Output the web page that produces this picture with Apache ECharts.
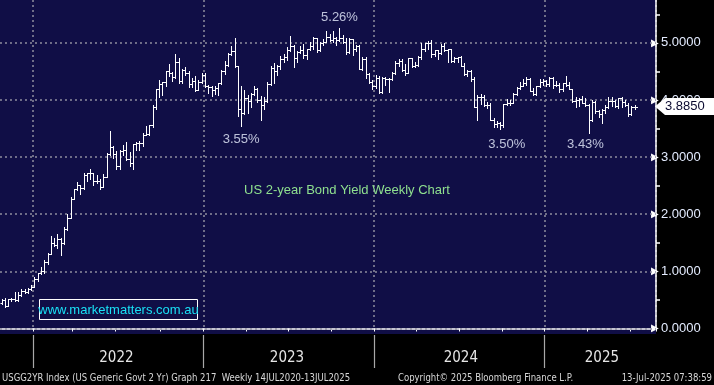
<!DOCTYPE html>
<html><head><meta charset="utf-8">
<script src="https://cdn.jsdelivr.net/npm/echarts@6/dist/echarts.min.js"></script>
<style>html,body{margin:0;padding:0;background:#000;}#c{width:714px;height:385px;}</style>
</head><body><div id="c"></div>
<script>
// Weekly OHLC rows: [open, high, low, close]
const y2021 = [
[0.45,0.52,0.43,0.50],[0.50,0.54,0.38,0.40],[0.40,0.52,0.39,0.51],[0.51,0.54,0.48,0.51],[0.51,0.64,0.48,0.50],
[0.50,0.64,0.49,0.59],[0.59,0.70,0.57,0.66],[0.66,0.69,0.62,0.64],[0.64,0.71,0.62,0.69],[0.69,0.77,0.67,0.73]];
const y2022 = [
[0.73,0.90,0.72,0.87],[0.87,0.98,0.84,0.97],[0.97,1.07,0.96,1.01],[1.01,1.20,0.98,1.17],[1.17,1.32,1.13,1.31],
[1.31,1.62,1.30,1.50],[1.50,1.58,1.44,1.47],[1.47,1.65,1.41,1.57],[1.57,1.58,1.28,1.50],[1.50,1.77,1.48,1.75],
[1.75,2.00,1.72,1.94],[1.94,2.30,1.93,2.27],[2.27,2.45,2.26,2.44],[2.44,2.56,2.42,2.51],[2.51,2.51,2.36,2.46],
[2.46,2.72,2.45,2.68],[2.68,2.73,2.58,2.72],[2.72,2.79,2.61,2.72],[2.72,2.73,2.52,2.59],[2.59,2.69,2.55,2.58],
[2.58,2.61,2.45,2.47],[2.47,2.70,2.47,2.66],[2.66,3.07,2.66,3.06],[3.06,3.45,3.03,3.17],[3.17,3.19,2.99,3.06],
[3.06,3.10,2.79,2.84],[2.84,3.12,2.80,3.11],[3.11,3.22,3.04,3.13],[3.13,3.27,2.95,2.97],[2.97,3.09,2.85,2.89],
[2.89,3.23,2.80,3.23],[3.23,3.27,3.12,3.25],[3.25,3.29,3.13,3.24],[3.24,3.43,3.20,3.39],[3.39,3.55,3.38,3.40],
[3.40,3.56,3.39,3.56],[3.56,3.92,3.53,3.87],[3.87,4.20,3.85,4.20],[4.20,4.35,4.05,4.28],[4.28,4.32,4.08,4.31],
[4.31,4.50,4.24,4.50],[4.50,4.63,4.42,4.48],[4.48,4.49,4.33,4.41],[4.41,4.80,4.39,4.66],[4.66,4.73,4.29,4.33],
[4.33,4.54,4.30,4.53],[4.53,4.57,4.44,4.47],[4.47,4.50,4.23,4.28],[4.28,4.38,4.23,4.34],[4.34,4.42,4.16,4.18],
[4.18,4.35,4.17,4.32],[4.32,4.48,4.30,4.43]];
const y2023 = [
[4.43,4.48,4.23,4.25],[4.25,4.27,4.12,4.23],[4.23,4.24,4.07,4.18],[4.18,4.24,4.10,4.21],[4.21,4.30,4.09,4.29],
[4.29,4.52,4.28,4.51],[4.51,4.68,4.46,4.62],[4.62,4.82,4.60,4.81],[4.81,4.94,4.79,4.86],[4.86,5.08,4.58,4.60],
[4.60,4.60,3.72,3.84],[3.84,4.25,3.55,3.77],[3.77,4.17,3.76,4.03],[4.03,4.08,3.77,3.99],[3.99,4.12,3.87,4.10],
[4.10,4.25,4.08,4.19],[4.19,4.21,3.97,4.00],[4.00,4.07,3.65,3.92],[3.92,4.06,3.85,3.98],[3.98,4.31,3.96,4.28],
[4.28,4.59,4.26,4.56],[4.56,4.64,4.29,4.50],[4.50,4.61,4.43,4.60],[4.60,4.77,4.54,4.72],[4.72,4.81,4.66,4.75],
[4.75,4.93,4.70,4.87],[4.87,5.12,4.85,4.94],[4.94,4.97,4.58,4.74],[4.74,4.86,4.66,4.84],[4.84,4.94,4.82,4.88],
[4.88,4.98,4.73,4.78],[4.78,4.90,4.71,4.89],[4.89,5.02,4.88,4.94],[4.94,5.11,4.90,5.08],[5.08,5.09,4.84,4.87],
[4.87,5.02,4.86,4.99],[4.99,5.07,4.96,5.02],[5.02,5.20,5.01,5.11],[5.11,5.15,5.03,5.05],[5.05,5.20,5.02,5.08],
[5.08,5.11,4.97,5.05],[5.05,5.26,5.04,5.08],[5.08,5.14,4.99,5.01],[5.01,5.08,4.80,4.84],[4.84,5.08,4.83,5.06],
[5.06,5.07,4.79,4.89],[4.89,4.96,4.85,4.95],[4.95,4.96,4.54,4.54],[4.54,4.75,4.53,4.72],[4.72,4.75,4.38,4.45],
[4.45,4.47,4.29,4.31],[4.31,4.35,4.20,4.25]];
const y2024 = [
[4.25,4.44,4.21,4.39],[4.39,4.42,4.12,4.14],[4.14,4.40,4.13,4.39],[4.39,4.40,4.27,4.36],[4.36,4.39,4.14,4.36],
[4.36,4.49,4.35,4.48],[4.48,4.69,4.45,4.64],[4.64,4.72,4.60,4.69],[4.69,4.72,4.50,4.53],[4.53,4.63,4.44,4.48],
[4.48,4.74,4.47,4.73],[4.73,4.74,4.57,4.59],[4.59,4.66,4.57,4.62],[4.62,4.77,4.60,4.75],[4.75,4.99,4.71,4.90],
[4.90,5.00,4.86,4.99],[4.99,5.04,4.90,5.00],[5.00,5.05,4.76,4.81],[4.81,4.88,4.77,4.87],[4.87,4.88,4.72,4.83],
[4.83,4.98,4.81,4.95],[4.95,4.99,4.85,4.87],[4.87,4.90,4.67,4.89],[4.89,4.90,4.66,4.68],[4.68,4.75,4.66,4.73],
[4.73,4.76,4.67,4.75],[4.75,4.77,4.59,4.60],[4.60,4.64,4.44,4.45],[4.45,4.52,4.42,4.50],[4.50,4.53,4.34,4.37],
[4.37,4.41,3.87,3.88],[3.88,4.08,3.65,4.05],[4.05,4.10,3.93,4.05],[4.05,4.08,3.89,3.91],[3.91,3.97,3.86,3.92],
[3.92,3.94,3.65,3.65],[3.65,3.68,3.53,3.58],[3.58,3.63,3.53,3.59],[3.59,3.61,3.50,3.56],[3.56,3.93,3.53,3.93],
[3.93,4.02,3.92,3.95],[3.95,4.00,3.92,3.95],[3.95,4.13,3.94,4.10],[4.10,4.22,4.08,4.21],[4.21,4.31,4.20,4.25],
[4.25,4.37,4.24,4.30],[4.30,4.41,4.27,4.37],[4.37,4.38,4.15,4.15],[4.15,4.21,4.09,4.10],[4.10,4.25,4.08,4.24],
[4.24,4.36,4.22,4.31],[4.31,4.37,4.27,4.33]];
const y2025 = [
[4.33,4.35,4.24,4.28],[4.28,4.40,4.25,4.38],[4.38,4.41,4.21,4.27],[4.27,4.33,4.24,4.27],[4.27,4.29,4.14,4.20],
[4.20,4.30,4.16,4.29],[4.29,4.42,4.25,4.26],[4.26,4.32,4.19,4.19],[4.19,4.20,3.97,3.99],[3.99,4.06,3.88,4.00],
[4.00,4.03,3.89,4.02],[4.02,4.07,3.95,3.95],[3.95,4.04,3.90,3.91],[3.91,3.93,3.43,3.65],[3.65,4.00,3.64,3.96],
[3.96,3.98,3.78,3.80],[3.80,3.83,3.70,3.76],[3.76,3.84,3.59,3.83],[3.83,3.92,3.78,3.88],[3.88,4.06,3.86,3.98],
[3.98,4.05,3.90,3.99],[3.99,4.00,3.87,3.90],[3.90,4.04,3.86,4.04],[4.04,4.05,3.87,3.96],[3.96,4.00,3.90,3.91],
[3.91,3.94,3.72,3.75],[3.75,3.90,3.74,3.88],[3.88,3.91,3.84,3.885]];

const firstWeek = '2021-10-29';
const weekCount = 200;
const yTicks = [0, 1, 2, 3, 4, 5];
const yearLabelWeeks = [35, 87, 140, 183];
const annIdx = [103, 73, 154, 178];
const annVal = [5.45, 3.31, 3.22, 3.22];
const annText = ['5.26%', '3.55%', '3.50%', '3.43%'];
const titleText = 'US 2-year Bond Yield Weekly Chart';
const siteText = 'www.marketmatters.com.au';
const footLeft = 'USGG2YR Index (US Generic Govt 2 Yr) Graph 217  Weekly 14JUL2020-13JUL2025';
const footMid = 'Copyright\u00a9 2025 Bloomberg Finance L.P.';
const footRight = '13-Jul-2025 07:38:59';

const rows = [].concat(y2021, y2022, y2023, y2024, y2025);
const ohlc = rows.map((r, i) => [i, r[0], r[1], r[2], r[3]]);
const cats = [];
const t0 = Date.parse(firstWeek + 'T00:00:00Z');
for (let i = 0; i <= weekCount; i++) cats.push(new Date(t0 + i * 7 * 864e5).toISOString().slice(0, 10));
const bandCats = cats.slice(0, weekCount);   // week bands
const edgeCats = cats;                        // week boundaries (one more)
const mon = v => +v.slice(5, 7), day = v => +v.slice(8, 10);
const yearFn = (i, v) => mon(v) === 1 && day(v) <= 7;
const quarterFn = (i, v) => [1, 4, 7, 10].includes(mon(v)) && day(v) <= 7;
const labelFn = (i) => yearLabelWeeks.includes(i);

const chart = echarts.init(document.getElementById('c'), null, {renderer: 'canvas'});
const dotted = {type: [2, 3], color: '#8e8e9e', width: 1.5};
const condensed = "'DejaVu Sans Condensed','DejaVu Sans',sans-serif";
const arial = "'Liberation Sans',Arial,sans-serif";
const yMax = 5.75;

function renderItem(params, api) {
  const i = api.value(0);
  const o = api.coord([i, api.value(1)]);
  const h = api.coord([i, api.value(2)]);
  const l = api.coord([i, api.value(3)]);
  const c = api.coord([i, api.value(4)]);
  const x = Math.round(o[0]) + 0.5;
  const st = {stroke: '#ffffff', lineWidth: 1};
  const oy = Math.round(o[1]) + 0.5, cy = Math.round(c[1]) + 0.5;
  return {type: 'group', children: [
    {type: 'line', shape: {x1: x, y1: Math.round(h[1]), x2: x, y2: Math.round(l[1]) + 1}, style: st},
    {type: 'line', shape: {x1: x - 2, y1: oy, x2: x, y2: oy}, style: st},
    {type: 'line', shape: {x1: x, y1: cy, x2: x + 2.5, y2: cy}, style: st}
  ]};
}

chart.setOption({
  backgroundColor: '#000000',
  animation: false,
  grid: [
    {left: 0, right: 58, top: 328.5 - 57.2 * yMax, bottom: 56.5},
    {left: 0, right: 58, top: 335, height: 33}
  ],
  xAxis: [{
    type: 'category', data: bandCats, boundaryGap: true, position: 'bottom', offset: 5, gridIndex: 0,
    axisLine: {lineStyle: {color: '#ffffff', width: 1.5}},
    axisTick: {show: true, interval: quarterFn, length: 3, lineStyle: {color: '#ffffff'}},
    axisLabel: {show: true, interval: labelFn, formatter: v => v.slice(0, 4), color: '#e6e6e6',
      fontFamily: condensed, fontSize: 15, margin: 17},
    splitLine: {show: true, interval: yearFn, lineStyle: dotted}
  }, {
    type: 'category', data: edgeCats, boundaryGap: false, gridIndex: 1,
    axisLine: {show: false}, axisTick: {show: false}, axisLabel: {show: false},
    splitLine: {show: true, interval: yearFn, lineStyle: {color: '#a8a8a8', width: 1.2, type: 'solid'}}
  }],
  yAxis: [{
    type: 'value', position: 'right', min: 0, max: yMax, interval: 1, gridIndex: 0,
    axisLine: {show: true, lineStyle: {color: '#ffffff', width: 1.5}},
    axisTick: {show: false},
    minorTick: {show: true, splitNumber: 2, length: 4, lineStyle: {color: '#ffffff', width: 1.5}},
    splitLine: {show: false},
    axisLabel: {
      margin: -5, showMaxLabel: false,
      formatter: v => '{a|\u25B6}{v|' + v.toFixed(4) + '}',
      rich: {
        a: {color: '#ffffff', fontSize: 10},
        v: {color: '#e4ecff', fontSize: 13, fontFamily: arial, padding: [0, 0, 0, 2]}
      }
    }
  }, {
    type: 'value', gridIndex: 1, show: false, splitLine: {show: false}
  }],
  series: [{
    type: 'custom', renderItem: renderItem, data: ohlc, xAxisIndex: 0, yAxisIndex: 0,
    encode: {x: 0, y: [1, 2, 3, 4]}, z: 5,
    markLine: {silent: true, symbol: 'none', label: {show: false}, lineStyle: dotted, z: 1,
      animation: false, data: yTicks.map(v => ({yAxis: v}))}
  }, {
    type: 'scatter', symbolSize: 0, z: 6, xAxisIndex: 0, yAxisIndex: 0,
    data: annIdx.map((x, i) => ({value: [x, annVal[i]], label: {formatter: annText[i]}})),
    label: {show: true, position: 'inside', color: '#e8efff', fontSize: 13, fontFamily: arial}
  }],
  graphic: [
    {id: 'bg', type: 'rect', shape: {x: 0, y: 0, width: 656, height: 334}, style: {fill: '#100e46'}, z: -10, silent: true},
    {id: 'title', type: 'text', x: 347, y: 190, style: {text: titleText, fill: '#8fe08f', fontSize: 13,
      fontFamily: arial, align: 'center', verticalAlign: 'middle'}, z: 10},
    {id: 'siteBox', type: 'rect', shape: {x: 39.5, y: 299.5, width: 158, height: 20}, style: {fill: '#100e46', stroke: '#ffffff', lineWidth: 1}, z: 10},
    {id: 'site', type: 'text', x: 118.5, y: 310, style: {text: siteText, fill: '#19e0f5', fontSize: 13,
      fontFamily: arial, align: 'center', verticalAlign: 'middle'}, z: 11},
    {id: 'f1', type: 'text', x: 2, y: 378, scaleX: 0.86, style: {text: footLeft, fill: '#d8d8d8', fontSize: 11, fontFamily: condensed, verticalAlign: 'middle'}},
    {id: 'f2', type: 'text', x: 398, y: 378, scaleX: 0.86, style: {text: footMid, fill: '#d8d8d8', fontSize: 11, fontFamily: condensed, verticalAlign: 'middle'}},
    {id: 'f3', type: 'text', x: 712, y: 378, scaleX: 0.86, style: {text: footRight, fill: '#d8d8d8', fontSize: 11, fontFamily: condensed, align: 'right', verticalAlign: 'middle'}}
  ]
});

// current-price tag placed through the axis scale
const last = rows[rows.length - 1][3];
const ty = chart.convertToPixel({yAxisIndex: 0}, last);
chart.setOption({graphic: [
  {id: 'tag', type: 'polygon', shape: {points: [[655, ty], [665, ty - 8.5], [716, ty - 8.5], [716, ty + 8.5], [665, ty + 8.5]]},
    style: {fill: '#ffffff'}, z: 20},
  {id: 'tagText', type: 'text', x: 665, y: ty, style: {text: last.toFixed(4), fill: '#0a0a30', fontSize: 13,
    fontFamily: arial, verticalAlign: 'middle'}, z: 21}
]});
</script></body></html>
